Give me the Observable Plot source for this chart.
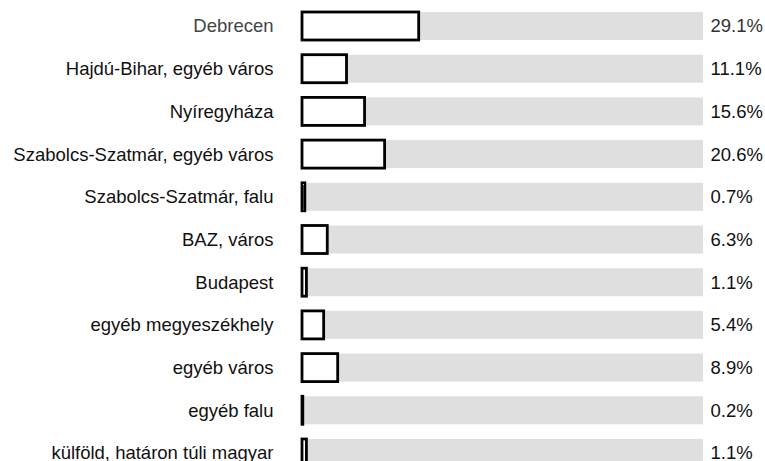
<!DOCTYPE html>
<html>
<head>
<meta charset="utf-8">
<script src="https://cdn.jsdelivr.net/npm/d3@7"></script>
<script src="https://cdn.jsdelivr.net/npm/@observablehq/plot@0.6"></script>
<style>
  html, body { margin: 0; padding: 0; background: #fff; overflow: hidden; }
  #chart svg { display: block; }
</style>
</head>
<body>
<div id="chart"></div>
<script>
const categories = [
  "Debrecen",
  "Hajdú-Bihar, egyéb város",
  "Nyíregyháza",
  "Szabolcs-Szatmár, egyéb város",
  "Szabolcs-Szatmár, falu",
  "BAZ, város",
  "Budapest",
  "egyéb megyeszékhely",
  "egyéb város",
  "egyéb falu",
  "külföld, határon túli magyar"
];
const values = [29.1, 11.1, 15.6, 20.6, 0.7, 6.3, 1.1, 5.4, 8.9, 0.2, 1.1];
const valueLabels = ["29.1%", "11.1%", "15.6%", "20.6%", "0.7%", "6.3%", "1.1%", "5.4%", "8.9%", "0.2%", "1.1%"];
const maxValue = 100;

const data = categories.map((c, i) => ({cat: c, value: values[i], label: valueLabels[i], i}));

const chart = Plot.plot({
  width: 765,
  height: 467,
  marginLeft: 302,
  marginRight: 62,
  marginTop: 12,
  marginBottom: 0,
  style: {fontFamily: "'Liberation Sans', Arial, sans-serif", fontSize: "18.5px", background: "#fff"},
  x: {domain: [0, maxValue], axis: null},
  y: {domain: categories, paddingInner: 0.344, paddingOuter: 0, round: false, axis: null},
  marks: [
    Plot.barX(data, {y: "cat", x1: 0, x2: maxValue, fill: "#dfdfdf"}),
    Plot.barX(data, {y: "cat", x1: 0, x2: "value", fill: "#fff", stroke: "#000", strokeWidth: 2.8}),
    Plot.text(data, {y: "cat", x: 0, text: "cat", textAnchor: "end", dx: -29,
      fill: d => d.i === 0 ? "#444" : "#111", fontSize: 18.5}),
    Plot.text(data, {y: "cat", x: maxValue, text: "label", textAnchor: "start", dx: 7,
      fill: d => d.i === 0 ? "#333" : "#111", fontSize: 18.5})
  ]
});
document.getElementById("chart").appendChild(chart);
</script>
</body>
</html>
